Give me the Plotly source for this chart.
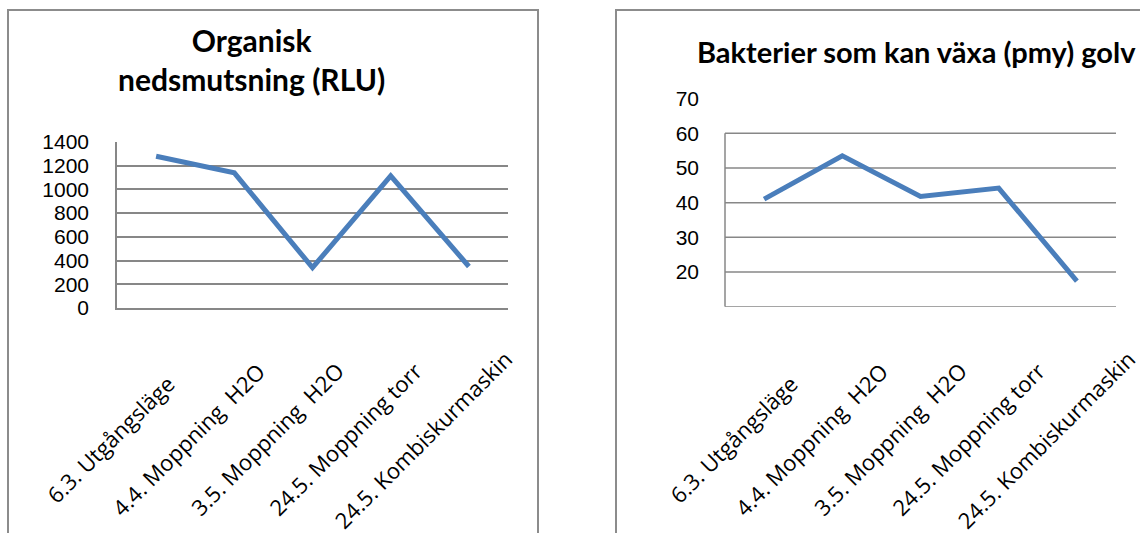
import plotly.graph_objects as go

W, H = 1140, 533

categories = ["6.3. Utgångsläge", "4.4. Moppning  H2O", "3.5. Moppning  H2O",
              "24.5. Moppning torr", "24.5. Kombiskurmaskin"]
rlu_values = [1280, 1140, 340, 1115, 350]
bakterier_values = [41.0, 53.5, 41.8, 44.2, 17.4]

left_title = "Organisk<br>nedsmutsning (RLU)"
right_title = "Bakterier som kan växa (pmy) golv"

left_yticks = [0, 200, 400, 600, 800, 1000, 1200, 1400]
right_yticks = [20, 30, 40, 50, 60, 70]
right_grid = [10, 20, 30, 40, 50, 60]

LINE = "#4A7EBB"
GRID = "#878787"
BORDER = "#8C8C8C"


def px(x):
    return x / W


def py(y):
    return 1 - y / H


fig = go.Figure()
fig.add_trace(go.Scatter(x=categories, y=rlu_values, mode="lines",
                         line=dict(color=LINE, width=5), xaxis="x", yaxis="y",
                         showlegend=False))
fig.add_trace(go.Scatter(x=categories, y=bakterier_values, mode="lines",
                         line=dict(color=LINE, width=5), xaxis="x2", yaxis="y2",
                         showlegend=False))

lx0, lx1 = px(117), px(508)
rx0, rx1 = px(725), px(1116)

xlab_font = dict(family="Open Sans", size=22, color="black")
ytick_font = dict(family="Liberation Sans", size=21, color="black")

fig.update_layout(
    width=W, height=H,
    margin=dict(l=0, r=0, t=0, b=0, autoexpand=False),
    paper_bgcolor="white", plot_bgcolor="white",
    xaxis=dict(domain=[lx0, lx1], anchor="y", type="category", automargin=False,
               range=[-0.5, 4.5], showgrid=False, showline=True,
               linecolor=GRID, linewidth=1.5, ticks="", showticklabels=False),
    yaxis=dict(domain=[py(308), py(142)], anchor="x", range=[0, 1400],
               automargin=False,
               tickvals=left_yticks, showgrid=True, gridcolor=GRID,
               gridwidth=1.5, zeroline=False, showline=True, linecolor=GRID,
               linewidth=1.5, ticks="", tickfont=ytick_font,
               ticklabelstandoff=22),
    xaxis2=dict(domain=[rx0, rx1], anchor="y2", type="category",
                automargin=False,
                range=[-0.5, 4.5], showgrid=False, showline=False,
                ticks="", showticklabels=False),
    yaxis2=dict(domain=[py(306.7), py(98.6)], anchor="x2", range=[10, 70],
                automargin=False,
                tickvals=right_yticks, showgrid=False, zeroline=False,
                showline=False, ticks="", tickfont=ytick_font,
                ticklabelstandoff=25),
)

# rotated category labels, centred near each category through the x axes
for xref, shift in (("x", -46), ("x2", -31)):
    for cat in categories:
        fig.add_annotation(text=cat, xref=xref, yref="paper", x=cat, y=py(439),
                           xanchor="center", yanchor="middle", xshift=shift,
                           textangle=-45, showarrow=False, font=xlab_font)

shapes = []
for v in right_grid:
    shapes.append(dict(type="line", xref="paper", yref="y2", x0=rx0, x1=rx1,
                       y0=v, y1=v, line=dict(color=GRID, width=1.5), layer="below"))
shapes.append(dict(type="line", xref="paper", yref="y2", x0=rx0, x1=rx0,
                   y0=right_grid[0], y1=right_grid[-1],
                   line=dict(color=GRID, width=1.5), layer="below"))
# chart panel borders
shapes.append(dict(type="rect", xref="paper", yref="paper", x0=px(8), x1=px(538),
                   y0=-0.1, y1=py(10), line=dict(color=BORDER, width=2)))
shapes.append(dict(type="rect", xref="paper", yref="paper", x0=px(616), x1=1.1,
                   y0=-0.1, y1=py(10), line=dict(color=BORDER, width=2)))
fig.update_layout(shapes=shapes)

fig.add_annotation(text=left_title, xref="paper", yref="paper", x=px(251),
                   y=py(59), xanchor="center", yanchor="middle", showarrow=False,
                   font=dict(family="Lato", size=30, color="black", weight="bold"))
fig.add_annotation(text=right_title, xref="paper", yref="paper", x=px(916),
                   y=py(52), xanchor="center", yanchor="middle", showarrow=False,
                   font=dict(family="Lato", size=29, color="black", weight="bold"))

fig.write_html("out.html")
